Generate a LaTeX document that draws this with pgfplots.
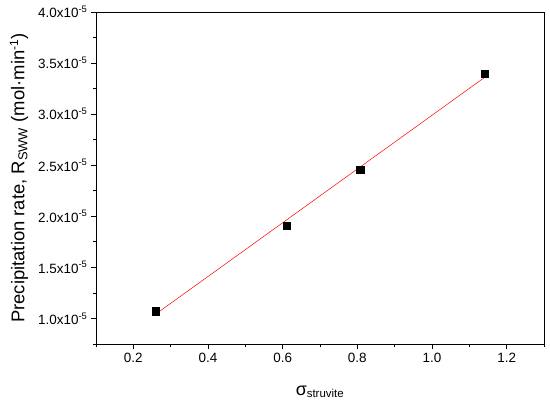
\documentclass[border=0pt]{standalone}
\usepackage{fontspec}
\setmainfont{Liberation Sans}
\usepackage{pgfplots}
\pgfplotsset{compat=1.18}

\begin{document}
\begin{tikzpicture}
\begin{axis}[
  scale only axis,
  width=448bp, height=332bp,
  xmin=0.1, xmax=1.3,
  ymin=0.75e-5, ymax=4.0e-5,
  xtick={0.2,0.4,0.6,0.8,1.0,1.2},
  xticklabels={0.2,0.4,0.6,0.8,1.0,1.2},
  minor xtick={0.1,0.3,0.5,0.7,0.9,1.1,1.3},
  ytick={1.0e-5,1.5e-5,2.0e-5,2.5e-5,3.0e-5,3.5e-5,4.0e-5},
  yticklabels={
    1.0x10\textsuperscript{-5},1.5x10\textsuperscript{-5},
    2.0x10\textsuperscript{-5},2.5x10\textsuperscript{-5},
    3.0x10\textsuperscript{-5},3.5x10\textsuperscript{-5},
    4.0x10\textsuperscript{-5}},
  minor ytick={0.75e-5,1.25e-5,1.75e-5,2.25e-5,2.75e-5,3.25e-5,3.75e-5},
  scaled y ticks=false,
  tick align=outside,
  tick pos=left,
  major tick length=5bp,
  minor tick length=2.5bp,
  tick style={black, line width=0.8pt},
  axis line style={line width=0.8pt},
  tick label style={font=\fontsize{13.5}{15}\selectfont},
  xticklabel style={yshift=-1bp},
  xlabel={\fontsize{18}{20}\selectfont σ\textsubscript{\fontsize{11.5}{12}\selectfont struvite}},
  ylabel={\fontsize{18.5}{20}\selectfont Precipitation rate, R\textsubscript{\fontsize{13}{14}\selectfont SWW} (mol·min\textsuperscript{\fontsize{12}{13}\selectfont -1})},
  xlabel style={at={(axis description cs:0.5,-0.154)}, anchor=base},
  ylabel style={at={(axis description cs:-0.172,0.5)}, anchor=center},
  clip=false,
]
  \addplot[red, line width=0.5pt, no marks]
    coordinates {(0.259,1.04e-5)(1.141,3.36e-5)};
  \addplot[only marks, mark=square*, mark size=3.6bp, black]
    coordinates {(0.259,1.072e-5)(0.611,1.909e-5)(0.8075,2.458e-5)(1.141,3.399e-5)};
\end{axis}
\pgfresetboundingbox
\path[use as bounding box]
  ([xshift=-96bp,yshift=-63bp]current axis.south west) rectangle
  ([xshift=6bp,yshift=12bp]current axis.north east);
\end{tikzpicture}
\end{document}
